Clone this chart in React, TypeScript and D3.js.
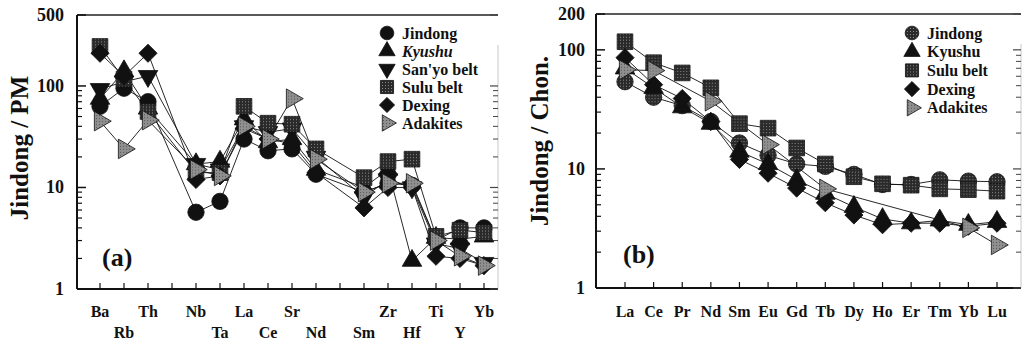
import * as d3 from 'd3';

// (a) trace elements normalised to primitive mantle; '' = unlabeled slot on the axis
const elemsA = ['Ba', 'Rb', 'Th', '', 'Nb', 'Ta', 'La', 'Ce', 'Sr', 'Nd', '', 'Sm', 'Zr', 'Hf', 'Ti', 'Y', 'Yb'];
const rowA = [0, 1, 0, 0, 0, 1, 0, 1, 0, 1, 0, 1, 0, 1, 0, 1, 0];
const jindongA = [63, 95, 70, null, 5.7, 7.3, 30, 23, 24, 13.5, null, 9, 11, 10.5, 3.0, 4.0, 4.0];
const kyushuA = [75, 140, 60, null, 17, 18, 47, 28, 30, 15, null, 10, 15, 1.9, 3.2, 3.1, 3.3];
const sanyoA = [93, 110, 125, null, 17, 15, 40, 35, 38, 20, null, 8, 12, 10, 2.8, 2.5, 1.8];
const suluA = [245, 117, 56, null, 14, 14, 63, 43, 42, 24, null, 12.5, 18, 19, 3.3, 3.8, 3.6];
const dexingA = [210, 125, 210, null, 12, 13, 38, 30, 27, 14, null, 6.3, 10, 10, 2.1, 2.0, 1.7];
const adakitesA = [45, 24, 46, null, 15, 13, 40, 30, 75, 19, null, 9, 11, 11, 3.0, 2.1, 1.7];
const yTicksA = [1, 10, 100, 500];

// (b) REE normalised to chondrite
const elemsB = ['La', 'Ce', 'Pr', 'Nd', 'Sm', 'Eu', 'Gd', 'Tb', 'Dy', 'Ho', 'Er', 'Tm', 'Yb', 'Lu'];
const jindongB = [54, 40, 34, 25, 16.5, 13, 11, 10.5, 9, 7.4, 7.4, 8.1, 7.9, 7.8];
const kyushuB = [70, 48, 33, 24, 14, 11, 8.1, 6.2, 4.8, 3.8, 3.5, 3.7, 3.4, 3.6];
const suluB = [117, 78, 64, 48, 24, 22, 15, 11, 8.6, 7.5, 7.3, 6.8, 6.7, 6.5];
const dexingB = [86, 51, 39, 25, 12, 9.2, 6.9, 5.2, 4.1, 3.4, 3.5, 3.5, 3.3, 3.5];
const adakitesB = [68, 67, null, 37, null, 16, null, 6.8, null, null, null, null, 3.2, 2.3];
const yTicksB = [1, 10, 100, 200];

const FONT = '"Liberation Serif", "DejaVu Serif", "Times New Roman", Times, serif';

type Kind = 'circle' | 'up' | 'down' | 'square' | 'diamond' | 'right';
type Series = { name: string; kind: Kind; fill: string; italic?: boolean; values: (number | null)[] };

const seriesA: Series[] = [
  { name: 'Jindong', kind: 'circle', fill: '#111', values: jindongA },
  { name: 'Kyushu', kind: 'up', fill: '#111', italic: true, values: kyushuA },
  { name: "San'yo belt", kind: 'down', fill: '#111', values: sanyoA },
  { name: 'Sulu belt', kind: 'square', fill: 'url(#stip)', values: suluA },
  { name: 'Dexing', kind: 'diamond', fill: '#111', values: dexingA },
  { name: 'Adakites', kind: 'right', fill: 'url(#grey)', values: adakitesA },
];

const seriesB: Series[] = [
  { name: 'Jindong', kind: 'circle', fill: 'url(#stip)', values: jindongB },
  { name: 'Kyushu', kind: 'up', fill: '#111', values: kyushuB },
  { name: 'Sulu belt', kind: 'square', fill: 'url(#stip)', values: suluB },
  { name: 'Dexing', kind: 'diamond', fill: '#111', values: dexingB },
  { name: 'Adakites', kind: 'right', fill: 'url(#grey)', values: adakitesB },
];

function symbolPath(kind: Kind, scale = 1) {
  const s = scale;
  switch (kind) {
    case 'circle':
      return { d: d3.symbol(d3.symbolCircle, 210 * s)()!, rot: 0 };
    case 'up':
      return { d: d3.symbol(d3.symbolTriangle, 165 * s)()!, rot: 0 };
    case 'down':
      return { d: d3.symbol(d3.symbolTriangle, 165 * s)()!, rot: 180 };
    case 'square':
      return { d: d3.symbol(d3.symbolSquare, 245 * s)()!, rot: 0 };
    case 'diamond':
      return { d: d3.symbol(d3.symbolSquare, 165 * s)()!, rot: 45 };
    case 'right':
      return { d: d3.symbol(d3.symbolTriangle, 165 * s)()!, rot: 90 };
  }
}

function Marker({ kind, fill, x, y, scale = 1 }: { kind: Kind; fill: string; x: number; y: number; scale?: number }) {
  const { d, rot } = symbolPath(kind, scale);
  return (
    <path d={d} transform={`translate(${x},${y}) rotate(${rot})`} fill={fill} stroke="#111" strokeWidth={0.8} />
  );
}

type PanelProps = {
  elems: string[];
  rows?: number[];
  series: Series[];
  yTicks: number[];
  box: { left: number; right: number; top: number; bottom: number };
  xRange: [number, number];
  yMax: number;
  title: string;
  titlePos: [number, number];
  tag: string;
  tagPos: [number, number];
  tickLabelX: number;
  legendX: number;
  legendY: number;
  legendStep: number;
};

function Panel(p: PanelProps) {
  const { box } = p;
  const x = d3.scaleLinear().domain([0, p.elems.length - 1]).range(p.xRange);
  const y = d3.scaleLog().domain([1, p.yMax]).range([box.bottom, box.top]);
  const minor = d3.range(1, 3).flatMap((e) => d3.range(2, 10).map((m) => m * Math.pow(10, e - 1))).filter((v) => v < p.yMax);
  const line = d3
    .line<{ i: number; v: number }>()
    .x((d) => x(d.i))
    .y((d) => y(d.v));

  return (
    <g style={{ fontFamily: FONT, fontWeight: 'bold' }} fill="#111">
      {/* frame */}
      <line x1={box.left} x2={box.right} y1={box.top} y2={box.top} stroke="#222" strokeWidth={1.3} />
      <line x1={box.left} x2={box.left} y1={box.top} y2={box.bottom} stroke="#111" strokeWidth={2} />
      <line x1={box.left} x2={box.right} y1={box.bottom} y2={box.bottom} stroke="#111" strokeWidth={2} />
      <line x1={box.right} x2={box.right} y1={box.top + 30} y2={box.bottom} stroke="#bbb" strokeWidth={0.8} />

      {/* y ticks */}
      {p.yTicks.map((t) => (
        <g key={t}>
          <line x1={box.left} x2={box.left + 9} y1={y(t)} y2={y(t)} stroke="#111" strokeWidth={1.5} />
          <text x={p.tickLabelX} y={y(t) + 6} textAnchor="end" fontSize={18}>
            {t}
          </text>
        </g>
      ))}
      {minor.map((t) => (
        <g key={'m' + t}>
          <line x1={box.left} x2={box.left + 5} y1={y(t)} y2={y(t)} stroke="#111" strokeWidth={1.2} />
          <line x1={box.right} x2={box.right - 5} y1={y(t)} y2={y(t)} stroke="#444" strokeWidth={1} />
        </g>
      ))}
      {p.yTicks.map((t) => (
        <line key={'r' + t} x1={box.right} x2={box.right - 8} y1={y(t)} y2={y(t)} stroke="#444" strokeWidth={1.2} />
      ))}

      {/* x ticks + labels */}
      {p.elems.map((e, i) => (
        <g key={'x' + i}>
          <line x1={x(i)} x2={x(i)} y1={box.bottom} y2={box.bottom - 6} stroke="#111" strokeWidth={1.2} />
          {e && (
            <text x={x(i)} y={(p.rows && p.rows[i] === 1 ? 338 : 317)} textAnchor="middle" fontSize={16}>
              {e}
            </text>
          )}
        </g>
      ))}

      {/* lines */}
      {p.series.map((s) => {
        const pts = s.values.map((v, i) => ({ i, v })).filter((d) => d.v != null) as { i: number; v: number }[];
        return <path key={'l' + s.name} d={line(pts)!} fill="none" stroke="#111" strokeWidth={0.9} />;
      })}
      {/* markers */}
      {p.series.map((s) =>
        s.values.map((v, i) =>
          v == null ? null : <Marker key={s.name + i} kind={s.kind} fill={s.fill} x={x(i)} y={y(v)} />,
        ),
      )}

      {/* legend */}
      {p.series.map((s, k) => (
        <g key={'lg' + s.name} transform={`translate(${p.legendX},${p.legendY + k * p.legendStep})`}>
          <Marker kind={s.kind} fill={s.fill} x={0} y={0} scale={0.7} />
          <text x={15} y={5.5} fontSize={16} fontStyle={s.italic ? 'italic' : 'normal'}>
            {s.name}
          </text>
        </g>
      ))}

      <text x={p.tagPos[0]} y={p.tagPos[1]} fontSize={26}>
        {p.tag}
      </text>
      <text
        transform={`translate(${p.titlePos[0]},${p.titlePos[1]}) rotate(-90)`}
        textAnchor="middle"
        fontSize={25}
      >
        {p.title}
      </text>
    </g>
  );
}

export default function App() {
  return (
    <div style={{ position: 'absolute', left: 0, top: 0, background: '#fff' }}>
      <svg width={1025} height={345} viewBox="0 0 1025 345">
        <defs>
          <pattern id="stip" width="3" height="3" patternUnits="userSpaceOnUse">
            <rect width="3" height="3" fill="#2a2a2a" />
            <rect x="1" y="1" width="1" height="1" fill="#8a8a8a" />
          </pattern>
          <pattern id="grey" width="3" height="3" patternUnits="userSpaceOnUse">
            <rect width="3" height="3" fill="#8f8f8f" />
            <rect x="0" y="0" width="1" height="1" fill="#555" />
          </pattern>
        </defs>
        <rect width={1025} height={345} fill="#fff" />
        <Panel
          elems={elemsA}
          rows={rowA}
          series={seriesA}
          yTicks={yTicksA}
          box={{ left: 77, right: 498, top: 15, bottom: 289 }}
          xRange={[100, 484]}
          yMax={500}
          title="Jindong / PM"
          titlePos={[28, 148]}
          tag="(a)"
          tagPos={[102, 266]}
          tickLabelX={64}
          legendX={387}
          legendY={33}
          legendStep={18}
        />
        <Panel
          elems={elemsB}
          series={seriesB}
          yTicks={yTicksB}
          box={{ left: 596, right: 1021, top: 14, bottom: 288 }}
          xRange={[625, 997]}
          yMax={200}
          title="Jindong / Chon."
          titlePos={[548, 141]}
          tag="(b)"
          tagPos={[623, 263]}
          tickLabelX={585}
          legendX={912}
          legendY={33}
          legendStep={18.7}
        />
      </svg>
    </div>
  );
}
